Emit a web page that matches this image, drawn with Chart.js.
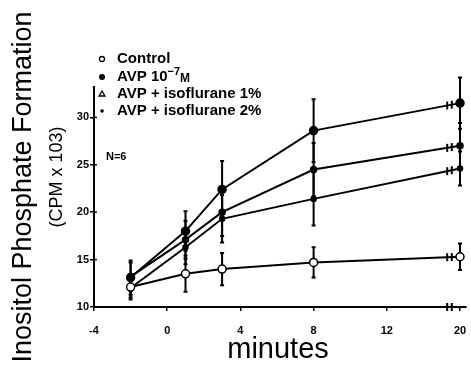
<!DOCTYPE html>
<html>
<head>
    <meta charset="utf-8" />
    <title>Inositol Phosphate Formation</title>
    <script src="https://cdn.jsdelivr.net/npm/chart.js"></script>
    <style>
        body { margin: 0; padding: 0; background: white; }
        #wrap { width: 471px; height: 366px; }
    </style>
</head>
<body>
    <div id="wrap"><canvas id="grafico" width="471" height="366"></canvas></div>
    <script>
        // time points (20 min is drawn at 16 because of the axis break)
        const minutos = [-2, 1, 3, 8, 16];
        const xTicks = [-4, 0, 4, 8, 12, 16];
        const xLabels = ['-4', '0', '4', '8', '12', '20'];
        const yTicks = [10, 15, 20, 25, 30];

        const control = [12.1, 13.5, 14.0, 14.7, 15.3];
        const controlErr = [1.1, 1.9, 1.7, 1.6, 1.4];
        const avp = [13.1, 18.0, 22.4, 28.6, 31.5];
        const avpErr = [1.8, 2.1, 3.0, 3.3, 2.7];
        const iso1 = [13.2, 17.1, 20.0, 24.5, 27.0];
        const iso1Err = [1.5, 2.0, 2.5, 2.8, 2.4];
        const iso2 = [12.0, 16.3, 19.3, 21.4, 24.6];
        const iso2Err = [1.2, 1.8, 2.5, 2.8, 1.8];

        const puntos = (vals, errs) => vals.map((v, i) => ({ x: minutos[i], y: v, err: errs[i] }));

        const serie = (label, vals, errs, fill, radius) => ({
            label: label,
            data: puntos(vals, errs),
            borderColor: 'black',
            borderWidth: 2,
            backgroundColor: fill,
            pointBackgroundColor: fill,
            pointBorderColor: 'black',
            pointBorderWidth: 1.5,
            pointRadius: radius,
            tension: 0,
            clip: false
        });

        // error bars + axis break marks
        const barras = {
            id: 'barras',
            beforeDatasetsDraw(chart) {
                const c = chart.ctx;
                const xs = chart.scales.x, ys = chart.scales.y;
                c.save();
                c.strokeStyle = 'black';
                c.lineWidth = 2;
                chart.data.datasets.forEach(ds => {
                    ds.data.forEach(p => {
                        const px = xs.getPixelForValue(p.x);
                        const y1 = ys.getPixelForValue(p.y + p.err);
                        const y2 = ys.getPixelForValue(p.y - p.err);
                        c.beginPath();
                        c.moveTo(px, y1); c.lineTo(px, y2);
                        c.moveTo(px - 2, y1); c.lineTo(px + 2, y1);
                        c.moveTo(px - 2, y2); c.lineTo(px + 2, y2);
                        c.stroke();
                    });
                    // break marks just before the 20 min point
                    const a = ds.data[3], b = ds.data[4];
                    [15.3, 15.55].forEach(bx => {
                        const by = a.y + (b.y - a.y) * (bx - a.x) / (b.x - a.x);
                        const px = xs.getPixelForValue(bx), py = ys.getPixelForValue(by);
                        c.beginPath();
                        c.moveTo(px, py - 4); c.lineTo(px, py + 4);
                        c.stroke();
                    });
                });
                [15.3, 15.55].forEach(bx => {
                    const px = xs.getPixelForValue(bx), py = ys.bottom;
                    c.beginPath();
                    c.moveTo(px, py - 4); c.lineTo(px, py + 4);
                    c.stroke();
                });
                // small ticks on the inner side of the y axis too
                yTicks.forEach(v => {
                    const py = ys.getPixelForValue(v);
                    c.lineWidth = 1.5;
                    c.beginPath();
                    c.moveTo(xs.left, py); c.lineTo(xs.left + 3, py);
                    c.stroke();
                });
                c.restore();
            },
            afterDraw(chart) {
                const c = chart.ctx;
                c.save();
                c.fillStyle = 'black';
                c.strokeStyle = 'black';

                // legend
                const lx = 102, tx = 117;
                const filas = [59, 77, 94, 111];
                c.lineWidth = 1.3;
                c.beginPath(); c.arc(lx, filas[0], 2.5, 0, Math.PI * 2); c.stroke();
                c.beginPath(); c.arc(lx, filas[1], 3, 0, Math.PI * 2); c.fill();
                c.beginPath(); c.moveTo(lx, filas[2] - 3); c.lineTo(lx + 3, filas[2] + 2); c.lineTo(lx - 3, filas[2] + 2); c.closePath(); c.stroke();
                c.beginPath(); c.arc(lx, filas[3], 1.8, 0, Math.PI * 2); c.fill();

                c.textBaseline = 'middle';
                c.textAlign = 'left';
                c.font = 'bold 15px "Liberation Sans"';
                c.fillText('Control', tx, filas[0]);
                c.fillText('AVP 10', tx, filas[1]);
                let w = c.measureText('AVP 10').width;
                c.font = 'bold 11px "Liberation Sans"';
                c.fillText('−7', tx + w, filas[1] - 5);
                w += c.measureText('−7').width;
                c.font = 'bold 12px "Liberation Sans"';
                c.fillText('M', tx + w, filas[1] + 2);
                c.font = 'bold 15px "Liberation Sans"';
                c.fillText('AVP + isoflurane 1%', tx, filas[2]);
                c.fillText('AVP + isoflurane 2%', tx, filas[3]);

                c.font = 'bold 11px "Liberation Sans"';
                c.fillText('N=6', 106, 157);

                // axis titles
                c.textAlign = 'center';
                c.font = '29px "Liberation Sans"';
                c.fillText('minutes', 278, 350);
                c.restore();

                c.save();
                c.fillStyle = 'black';
                c.textAlign = 'center';
                c.textBaseline = 'middle';
                c.translate(24, 187);
                c.rotate(-Math.PI / 2);
                c.font = '27px "Liberation Sans"';
                c.fillText('Inositol Phosphate Formation', 0, 0);
                c.restore();

                c.save();
                c.fillStyle = 'black';
                c.textAlign = 'center';
                c.textBaseline = 'middle';
                c.translate(57, 177);
                c.rotate(-Math.PI / 2);
                c.font = '18px "Liberation Sans"';
                c.fillText('(CPM x 103)', 0, 0);
                c.restore();
            }
        };

        const ctx = document.getElementById('grafico').getContext('2d');
        new Chart(ctx, {
            type: 'line',
            data: {
                datasets: [
                    serie('Control', control, controlErr, 'white', 4),
                    serie('AVP 10-7M', avp, avpErr, 'black', 4),
                    serie('AVP + isoflurane 1%', iso1, iso1Err, 'black', 3),
                    serie('AVP + isoflurane 2%', iso2, iso2Err, 'black', 2.5)
                ]
            },
            options: {
                responsive: false,
                animation: false,
                layout: { padding: { top: 87, right: 4, left: 0, bottom: 0 } },
                plugins: { legend: { display: false }, tooltip: { enabled: false } },
                scales: {
                    x: {
                        type: 'linear',
                        min: -4,
                        max: 16.3,
                        afterFit: s => { s.height = 59; s.paddingLeft = 0; s.paddingRight = 0; },
                        afterBuildTicks: s => { s.ticks = xTicks.map(v => ({ value: v })); },
                        ticks: {
                            color: 'black',
                            padding: 13,
                            font: { family: 'Liberation Sans', size: 11, weight: 'bold' },
                            callback: (v) => xLabels[xTicks.indexOf(v)]
                        },
                        grid: { drawOnChartArea: false, color: 'black', lineWidth: 1.5, tickLength: 4 },
                        border: { color: 'black', width: 2 }
                    },
                    y: {
                        min: 10,
                        max: 33.2,
                        afterFit: s => { s.width = 94; },
                        afterBuildTicks: s => { s.ticks = yTicks.map(v => ({ value: v })); },
                        ticks: {
                            color: 'black',
                            padding: 1,
                            font: { family: 'Liberation Sans', size: 11, weight: 'bold' }
                        },
                        grid: { drawOnChartArea: false, color: 'black', lineWidth: 1.5, tickLength: 4 },
                        border: { color: 'black', width: 2 }
                    }
                }
            },
            plugins: [barras]
        });
    </script>
</body>
</html>
